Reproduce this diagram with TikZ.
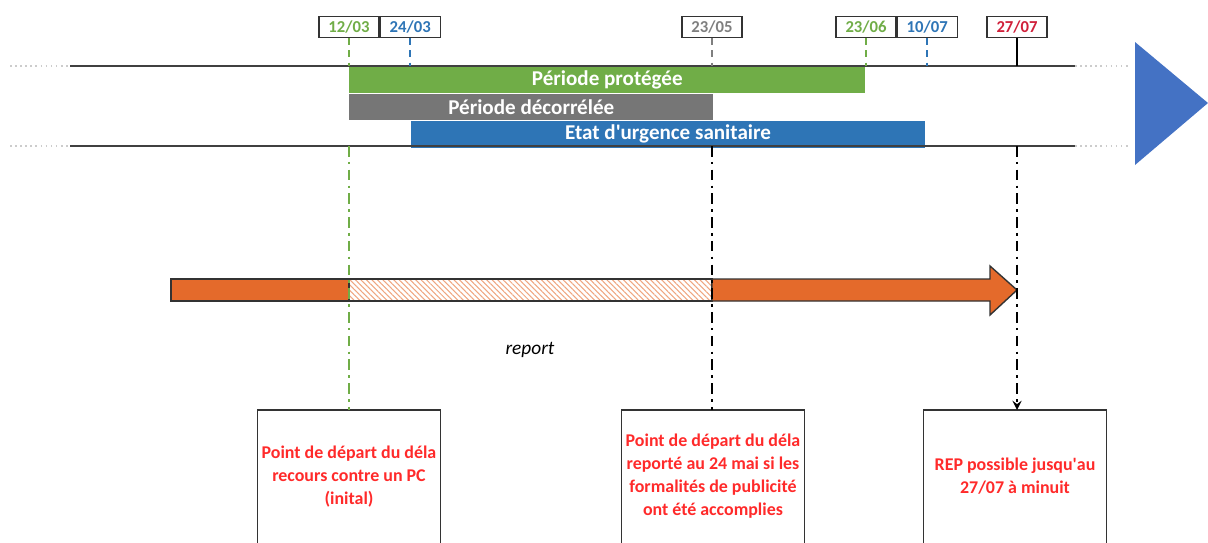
\documentclass[tikz,border=0pt]{standalone}
\usepackage{fontspec}
\setmainfont{Carlito}
\usetikzlibrary{positioning,patterns.meta,arrows}

\definecolor{vertp}{HTML}{70AD47}
\definecolor{grisd}{HTML}{767676}
\definecolor{grisdate}{HTML}{7F7F7F}
\definecolor{bleuu}{HTML}{2E75B6}
\definecolor{bleut}{HTML}{4472C4}
\definecolor{orangeb}{HTML}{E46A2B}
\definecolor{rouget}{HTML}{FF2A2A}
\definecolor{rougedate}{HTML}{D0203A}
\definecolor{traitgris}{HTML}{404040}

\begin{document}
\begin{tikzpicture}[x=0.02cm, y=-0.02cm, every node/.style={align=center, font=\small}, >=stealth]
    % styles
    \tikzstyle{date} = [rectangle, draw=black!80, fill=white, line width=0.7pt, minimum width=1.2cm, minimum height=0.42cm, inner sep=0pt, font=\fontsize{9.5}{10}\selectfont\bfseries]
    \tikzstyle{bar} = [rectangle, anchor=north west, minimum height=0.533cm, inner sep=0pt, text=white, font=\fontsize{12}{13}\selectfont\bfseries]
    \tikzstyle{note} = [rectangle, anchor=north, minimum width=3.64cm, minimum height=2.64cm, inner sep=0pt, text=rouget, font=\fontsize{10.2}{13}\selectfont\bfseries]
    \tikzstyle{cadre} = [draw=black!80, line width=0.8pt]
    \tikzstyle{tick} = [line width=1pt, dash pattern=on 4pt off 3pt]
    \tikzstyle{repere} = [line width=1.3pt, dash pattern=on 6pt off 3pt on 1.5pt off 3pt]
    \tikzstyle{axe} = [line width=0.9pt, draw=traitgris]
    \tikzstyle{fleche} = [fill=orangeb, draw=black!80, line width=0.8pt]

    \clip (0,0) rectangle (1208,542);

    % dates
    \node[date, text=vertp] (d1203) at (349,27) {12/03};
    \node[date, text=bleuu, right=0pt of d1203] (d2403) {24/03};
    \node[date, text=grisdate] (d2305) at (712,27) {23/05};
    \node[date, text=vertp] (d2306) at (866,27) {23/06};
    \node[date, text=bleuu, right=0pt of d2306] (d1007) {10/07};
    \node[date, text=rougedate] (d2707) at (1017,27) {27/07};

    \coordinate (haut) at (0,66);
    \coordinate (bas) at (0,146);

    % periodes
    \node[bar, fill=vertp, minimum width=10.32cm] (protegee) at (d1203 |- haut) {Période protégée};
    \node[bar, fill=grisd, minimum width=7.28cm] (decorrelee) at (protegee.south west) {Période décorrélée};
    \node[bar, fill=bleuu, minimum width=10.3cm] (urgence) at (d2403 |- decorrelee.south) {Etat d\textquotesingle urgence sanitaire};

    % axes
    \draw[axe] (70,66) -- (1075,66);
    \draw[axe] (70,146) -- (1075,146);
    \draw[line width=0.9pt, gray!40, dotted] (10,66) -- (70,66) (1075,66) -- (1130,66);
    \draw[line width=0.9pt, gray!40, dotted] (10,146) -- (70,146) (1075,146) -- (1130,146);
    \fill[bleut] (1135,42) -- (1208,103) -- (1135,165) -- cycle;

    % reperes
    \draw[tick, vertp] (d1203.south) -- (d1203 |- haut);
    \draw[tick, bleuu] (d2403.south) -- (d2403 |- haut);
    \draw[tick, grisdate] (d2305.south) -- (d2305 |- haut);
    \draw[tick, vertp] (d2306.south) -- (d2306 |- haut);
    \draw[tick, bleuu] (d1007.south) -- (d1007 |- haut);
    \draw[line width=0.8pt] (d2707.south) -- (d2707 |- haut);

    % delai
    \draw[fleche] (171,279) rectangle (349,301);
    \draw[draw=black!80, line width=0.6pt, pattern={Lines[angle=-45,distance=2.2pt,line width=0.6pt]}, pattern color=orangeb!60] (349,279) rectangle (712,301);
    \draw[fleche] (712,279) -- (990,279) -- (990,266) -- (1017,290) -- (990,315) -- (990,301) -- (712,301) -- cycle;
    \node[font=\fontsize{11}{12}\selectfont\itshape] (report) at (530,350) {report};

    % notes
    \node[note] (n1) at (349,410) {Point de départ du déla\\recours contre un PC\\(inital)};
    \node[note] (n2) at (713,410) {Point de départ du déla\\reporté au 24 mai si les\\formalités de publicité\\ont été accomplies};
    \node[note] (n3) at (1015,410) {REP possible jusqu\textquotesingle au\\27/07 à minuit};
    \foreach \n in {n1,n2,n3}
        \draw[cadre] (\n.south west) -- (\n.north west) -- (\n.north east) -- (\n.south east);

    % fleches
    \draw[repere, vertp] (d1203 |- bas) -- (n1.north);
    \draw[repere] (d2305 |- bas) -- (d2305 |- n2.north);
    \draw[repere, ->] (d2707 |- bas) -- (d2707 |- n3.north);
\end{tikzpicture}
\end{document}
